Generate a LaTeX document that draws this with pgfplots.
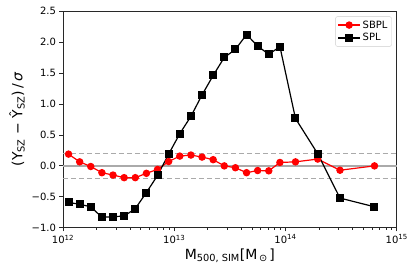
\documentclass[border=0pt]{standalone}
\usepackage{pgfplots}
\pgfplotsset{compat=1.18}
\usepackage{fontspec}
\setmainfont{DejaVu Sans}
\definecolor{refgray}{RGB}{170,170,170}
\definecolor{spine}{RGB}{40,40,40}
\begin{document}
\begin{tikzpicture}
\begin{axis}[
  scale only axis,
  width=334pt, height=217pt,
  xmode=log,
  xmin=1e12, xmax=1e15,
  ymin=-1, ymax=2.5,
  xtick={1e12,1e13,1e14,1e15},
  xticklabels={10\textsuperscript{12},10\textsuperscript{13},10\textsuperscript{14},10\textsuperscript{15}},
  ytick={-1,-0.5,0,0.5,1,1.5,2,2.5},
  yticklabels={−1.0,−0.5,0.0,0.5,1.0,1.5,2.0,2.5},
  tick align=outside,
  tick pos=left,
  major tick length=3.5pt,
  minor tick length=2pt,
  tick style={spine, line width=0.8pt},
  axis line style={spine, line width=0.8pt},
  ticklabel style={font=\fontsize{10}{11}\selectfont},
  xlabel={M\textsubscript{500, SIM}[M\textsubscript{\,⊙\,}]},
  ylabel={(Y\textsubscript{SZ} − Ŷ\textsubscript{SZ})\,/\,\textit{σ}},
  xlabel style={font=\fontsize{14}{15}\selectfont, yshift=2pt},
  ylabel style={font=\fontsize{14}{15}\selectfont, yshift=0pt},
  legend style={at={(0.985,0.975)}, anchor=north east, font=\fontsize{10}{11}\selectfont,
    draw=refgray!60, rounded corners=2pt, row sep=0pt, inner sep=2pt},
  legend image code/.code={%
    \draw[mark repeat=2,mark phase=2,#1] plot coordinates {(0pt,0pt) (11pt,0pt) (22pt,0pt)};},
  legend cell align=left,
  clip=false,
]
\addplot[refgray, line width=1.3pt, dashed, forget plot, dash pattern=on 5pt off 3pt] coordinates {(1e12,0.2) (1e15,0.2)};
\addplot[refgray, line width=1.3pt, dashed, forget plot, dash pattern=on 5pt off 3pt] coordinates {(1e12,-0.2) (1e15,-0.2)};
\addplot[refgray, line width=1.3pt, forget plot] coordinates {(1e12,0) (1e15,0)};
\addplot[red, line width=1.2pt, mark=*, mark size=3.1pt, mark options={solid, fill=red}] coordinates {
(1.122e12,0.19) (1.413e12,0.065) (1.778e12,-0.01) (2.239e12,-0.11) (2.818e12,-0.148)
(3.548e12,-0.19) (4.467e12,-0.19) (5.623e12,-0.12) (7.079e12,-0.057) (8.913e12,0.07)
(1.122e13,0.158) (1.413e13,0.175) (1.778e13,0.142) (2.239e13,0.10) (2.818e13,0.0)
(3.548e13,-0.03) (4.467e13,-0.11) (5.623e13,-0.075) (7.079e13,-0.08) (8.913e13,0.055)
(1.23e14,0.065) (1.95e14,0.11) (3.09e14,-0.07) (6.31e14,0.0)
};
\addlegendentry{SBPL}
\addplot[black, line width=1.2pt, mark=square*, mark size=3.4pt, mark options={solid, fill=black}] coordinates {
(1.122e12,-0.59) (1.413e12,-0.62) (1.778e12,-0.66) (2.239e12,-0.83) (2.818e12,-0.82)
(3.548e12,-0.81) (4.467e12,-0.69) (5.623e12,-0.43) (7.079e12,-0.155) (8.913e12,0.19)
(1.122e13,0.52) (1.413e13,0.80) (1.778e13,1.145) (2.239e13,1.46) (2.818e13,1.75)
(3.548e13,1.88) (4.467e13,2.12) (5.623e13,1.935) (7.079e13,1.80) (8.913e13,1.925)
(1.23e14,0.765) (1.95e14,0.195) (3.09e14,-0.52) (6.31e14,-0.66)
};
\addlegendentry{SPL}
\end{axis}
\pgfresetboundingbox
\path (-63pt,-46pt) rectangle (352.3pt,228pt);
\end{tikzpicture}
\end{document}
